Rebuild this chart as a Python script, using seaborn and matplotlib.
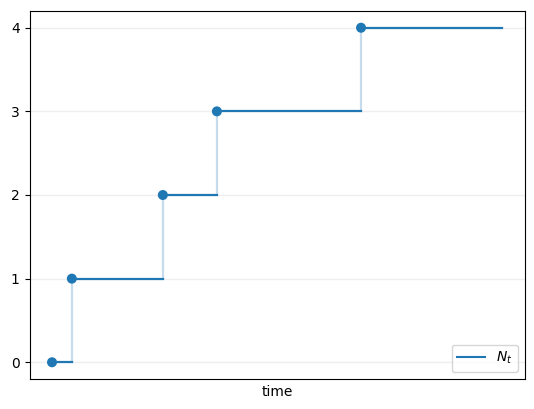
import matplotlib
matplotlib.use("Agg")
import matplotlib.pyplot as plt
import seaborn as sns
import numpy as np
import pandas as pd
from matplotlib.lines import Line2D

# Jump times of the counting process and the end of the observation window
jump_times = [0.0, 0.44, 2.46, 3.66, 6.86]
counts = [0, 1, 2, 3, 4]
end_time = 10.0
y_ticks = [0, 1, 2, 3, 4]
x_label = "time"
legend_label = "$N_t$"

color = "#1f77b4"

fig = plt.figure(figsize=(5.34, 4.09), dpi=100)
ax = fig.add_axes([29.5 / 534, 1 - 379 / 409, (525 - 29.5) / 534, (379 - 11) / 409])

# horizontal segments
seg_rows = []
ends = jump_times[1:] + [end_time]
for i, (s, e, c) in enumerate(zip(jump_times, ends, counts)):
    seg_rows.append({"seg": i, "t": s, "N": c})
    seg_rows.append({"seg": i, "t": e, "N": c})
seg_df = pd.DataFrame(seg_rows)
sns.lineplot(data=seg_df, x="t", y="N", units="seg", estimator=None,
             color=color, linewidth=1.6, ax=ax, legend=False, zorder=3)

# vertical jumps (light)
ax.vlines(jump_times[1:], counts[:-1], counts[1:], color=color, alpha=0.25,
          linewidth=1.6, zorder=2)

# points at the jumps
pts_df = pd.DataFrame({"t": jump_times, "N": counts})
sns.scatterplot(data=pts_df, x="t", y="N", color=color, s=52, edgecolor="none",
                ax=ax, zorder=4, legend=False)

ax.set_yticks(y_ticks)
ax.set_xticks([])
ax.set_xlabel(x_label)
ax.set_ylabel("")
ax.grid(axis="y", color="#b0b0b0", alpha=0.2, linewidth=1.0)
ax.set_axisbelow(True)

ax.legend(handles=[Line2D([], [], color=color, linewidth=1.5)], labels=[legend_label],
          loc="lower right")

fig.savefig("out.png", dpi=100)
